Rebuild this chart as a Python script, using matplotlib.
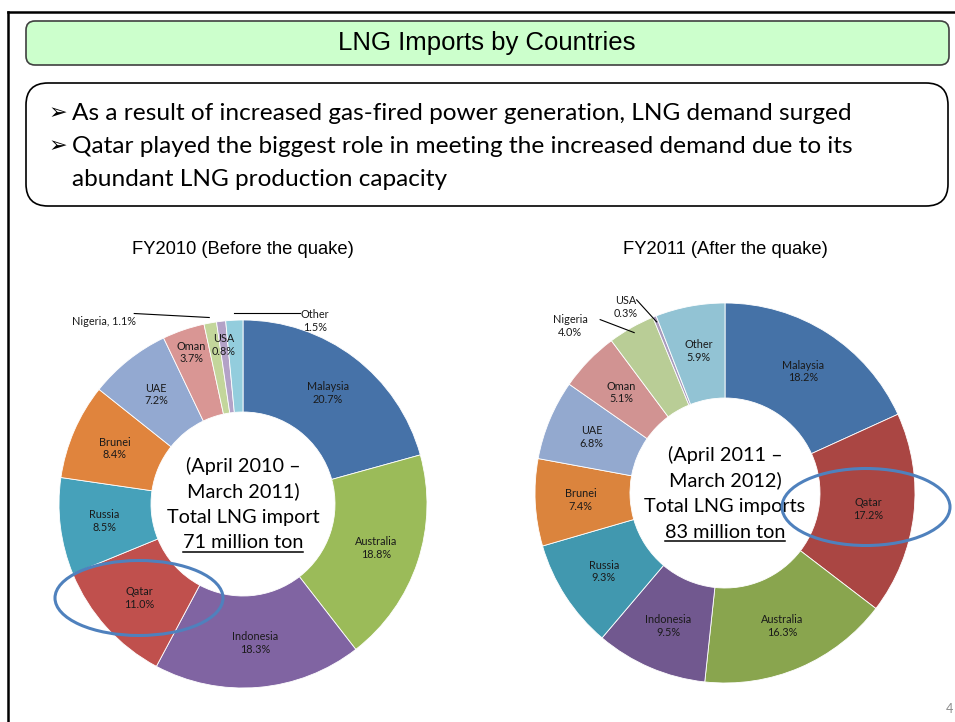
import numpy as np
import matplotlib.pyplot as plt
from matplotlib.patches import FancyBboxPatch, Ellipse

plt.rcParams['font.family'] = ['Lato', 'DejaVu Sans']

# FY2010 shares (%)
countries_2010 = ['Malaysia', 'Australia', 'Indonesia', 'Qatar', 'Russia', 'Brunei',
                  'UAE', 'Oman', 'Nigeria', 'USA', 'Other']
share_2010 = [20.7, 18.8, 18.3, 11.0, 8.5, 8.4, 7.2, 3.7, 1.1, 0.8, 1.5]
colors_2010 = ['#4672A8', '#9BBB59', '#8064A2', '#C0504D', '#46A1BA', '#E0843D',
               '#93A9D1', '#D99694', '#C3D69B', '#B3A2C7', '#93CDDD']

# FY2011 shares (%)
countries_2011 = ['Malaysia', 'Qatar', 'Australia', 'Indonesia', 'Russia', 'Brunei',
                  'UAE', 'Oman', 'Nigeria', 'USA', 'Other']
share_2011 = [18.2, 17.2, 16.3, 9.5, 9.3, 7.4, 6.8, 5.1, 4.0, 0.3, 5.9]
colors_2011 = ['#4572A7', '#AA4643', '#89A54E', '#71588F', '#4198AF', '#DB843D',
               '#93A9CF', '#D19392', '#B9CD96', '#A99BBD', '#92C3D4']

bullets = ['As a result of increased gas-fired power generation, LNG demand surged',
           'Qatar played the biggest role in meeting the increased demand due to its',
           'abundant LNG production capacity']

fig = plt.figure(figsize=(9.55, 7.22), dpi=100)
ax = fig.add_axes([0, 0, 1, 1])

LAB = 7.8


def donut(values, names, colors, cx, cy, R, special, title, center_lines):
    wedges, _ = ax.pie(values, colors=colors, startangle=-90, counterclock=True,
                       center=(cx, cy), radius=R, frame=True,
                       wedgeprops=dict(width=R * 0.5, edgecolor='white', linewidth=0.6))
    for w, name, v in zip(wedges, names, values):
        th = np.deg2rad((w.theta1 + w.theta2) / 2)
        lab = f'{name}\n{v:.1f}%'
        if name in special and special[name][0] == 'in':
            r = special[name][1] * R
            ax.text(cx + r * np.cos(th), cy + r * np.sin(th), lab, ha='center',
                    va='center', fontsize=LAB, color='#1a1a1a', linespacing=1.2)
        elif name in special:
            _, ra, ldx, ldy, tdx, tdy, ha, sep = special[name]
            x0, y0 = cx + ra * R * np.cos(th), cy + ra * R * np.sin(th)
            x1, y1 = x0 + ldx, y0 + ldy
            ax.plot([x0, x1], [y0, y1], color='black', lw=0.8)
            ax.text(x1 + tdx, y1 + tdy, f'{name}{sep}{v:.1f}%', ha=ha, va='center',
                    fontsize=LAB, color='#1a1a1a', linespacing=1.2)
        else:
            r = 0.76 * R
            ax.text(cx + r * np.cos(th), cy + r * np.sin(th), lab, ha='center',
                    va='center', fontsize=LAB, color='#1a1a1a', linespacing=1.2)
    ax.text(cx, 250, title, ha='center', va='center', fontsize=13.2,
            family='Liberation Sans')
    texts = []
    for off, line in zip([-32, -6.5, 19, 44.5], center_lines):
        texts.append(ax.text(cx, cy + off, line, ha='center', va='baseline',
                             fontsize=14.3, zorder=5))
    return texts[-1], cy + 44.5


u1 = donut(share_2010, countries_2010, colors_2010, 243, 504, 184,
           {'Oman': ('in', 0.87), 'USA': ('in', 0.87),
            'Nigeria': ('out', 1.03, -75, -4, 2, 8, 'right', ', '),
            'Other': ('out', 1.04, 66, 0, 15, 8, 'center', '\n')},
           'FY2010 (Before the quake)',
           ['(April 2010 \u2013', 'March 2011)', 'Total LNG import', '71 million ton'])
u2 = donut(share_2011, countries_2011, colors_2011, 725, 493, 190,
           {'Nigeria': ('out', 0.97, -34, -13, -30, 6, 'center', '\n'),
            'USA': ('out', 0.97, -20, -22, -11, 7, 'center', '\n')},
           'FY2011 (After the quake)',
           ['(April 2011 \u2013', 'March 2012)', 'Total LNG imports', '83 million ton'])

# highlight Qatar
ax.add_patch(Ellipse((139, 598), 168, 75, fill=False, ec='#4F81BD', lw=2.2, zorder=6))
ax.add_patch(Ellipse((866, 507), 168, 77, fill=False, ec='#4F81BD', lw=2.2, zorder=6))

# page frame
ax.plot([8, 955], [12, 12], color='black', lw=1.8)
ax.plot([8, 8], [12, 722], color='black', lw=1.8)

# title box
ax.add_patch(FancyBboxPatch((26, 21), 923, 44, boxstyle='round,pad=0,rounding_size=9',
                            fc='#CCFFCC', ec='#404040', lw=1.2))
ax.text(487, 43, 'LNG Imports by Countries', ha='center', va='center', fontsize=18.5,
        family='Liberation Sans')

# bullet box
ax.add_patch(FancyBboxPatch((26, 83), 922, 123, boxstyle='round,pad=0,rounding_size=22',
                            fc='white', ec='black', lw=1.2))
for i, line in enumerate(bullets):
    y = 113 + i * 33.5
    if i < 2:
        ax.text(49, y, '\u27a2', ha='left', va='center', fontsize=16,
                family='DejaVu Sans', fontweight='bold')
    ax.text(72, y, line, ha='left', va='center', fontsize=17.6)

ax.text(949, 709, '4', ha='center', va='center', fontsize=9, color='#8C8C8C')

ax.set_xlim(0, 955)
ax.set_ylim(722, 0)
ax.set_aspect('auto')
ax.axis('off')

# underline the totals
fig.canvas.draw()
rend = fig.canvas.get_renderer()
inv = ax.transData.inverted()
for t, yb in [u1, u2]:
    bb = t.get_window_extent(rend)
    (x0, _), (x1, _) = inv.transform([[bb.x0, bb.y0], [bb.x1, bb.y0]])
    ax.plot([x0, x1], [yb + 3.5, yb + 3.5], color='black', lw=1.1, zorder=5)

fig.savefig('out.png', dpi=100)
